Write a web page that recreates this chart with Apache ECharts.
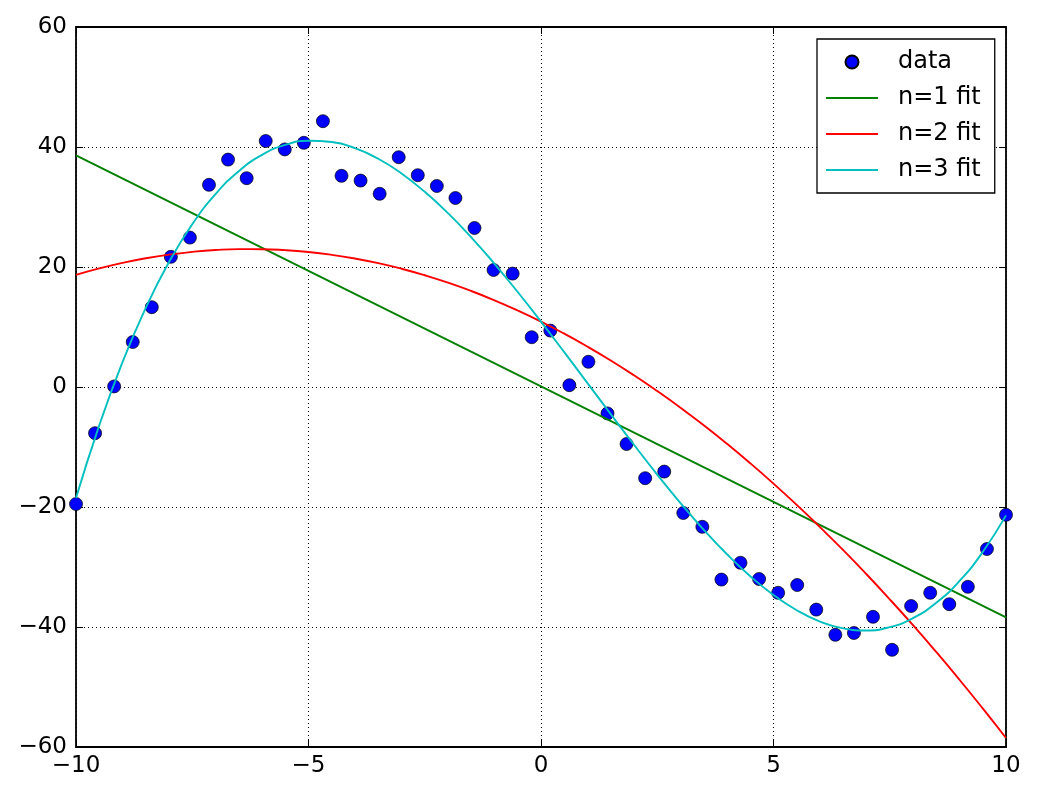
<!DOCTYPE html>
<html>
<head>
<meta charset="utf-8">
<script src="https://cdn.jsdelivr.net/npm/echarts@6/dist/echarts.min.js"></script>
<style>
  html, body { margin: 0; padding: 0; background: #fff; }
  #chart { width: 1037px; height: 794px; }
</style>
</head>
<body>
<div id="chart"></div>
<script>
// ---- data ----
const dataX = [-10.00, -9.59, -9.18, -8.78, -8.37, -7.96, -7.55, -7.14, -6.73, -6.33,
               -5.92, -5.51, -5.10, -4.69, -4.29, -3.88, -3.47, -3.06, -2.65, -2.24,
               -1.84, -1.43, -1.02, -0.61, -0.20, 0.20, 0.61, 1.02, 1.43, 1.84,
               2.24, 2.65, 3.06, 3.47, 3.88, 4.29, 4.69, 5.10, 5.51, 5.92,
               6.33, 6.73, 7.14, 7.55, 7.96, 8.37, 8.78, 9.18, 9.59, 10.00];
const dataY = [-19.5, -7.7, 0.1, 7.5, 13.3, 21.7, 24.9, 33.7, 37.9, 34.8,
               41.0, 39.6, 40.7, 44.3, 35.2, 34.4, 32.2, 38.3, 35.3, 33.5,
               31.5, 26.5, 19.5, 18.9, 8.3, 9.4, 0.3, 4.2, -4.4, -9.5,
               -15.2, -14.1, -21.0, -23.3, -32.1, -29.3, -32.0, -34.3, -33.0, -37.1,
               -41.3, -41.0, -38.3, -43.8, -36.5, -34.3, -36.2, -33.3, -27.0, -21.3];

// fitted curves
const fitX1 = [-10, 10];
const fitY1 = [38.6, -38.4];
const fitX = [-10, -9.5, -9, -8.5, -8, -7.5, -7, -6.5, -6, -5.5, -5, -4.5, -4, -3.5, -3, -2.5, -2, -1.5, -1, -0.5,
              0, 0.5, 1, 1.5, 2, 2.5, 3, 3.5, 4, 4.5, 5, 5.5, 6, 6.5, 7, 7.5, 8, 8.5, 9, 9.5, 10];
const fitY2 = [18.7, 19.77, 20.69, 21.46, 22.07, 22.52, 22.83, 22.98, 22.97, 22.81, 22.5, 22.03, 21.41, 20.64,
               19.71, 18.62, 17.39, 16.0, 14.45, 12.75, 10.9, 8.89, 6.73, 4.42, 1.95, -0.68, -3.45, -6.38,
               -9.47, -12.71, -16.1, -19.65, -23.35, -27.2, -31.21, -35.38, -39.69, -44.16, -48.79, -53.57, -58.5];
const fitY3 = [-18.5, -6.39, 4.15, 13.19, 20.83, 27.12, 32.14, 35.97, 38.68, 40.35, 41.04, 40.83, 39.8, 38.04,
               35.59, 32.53, 28.97, 24.95, 20.54, 15.83, 10.9, 5.81, 0.64, -4.53, -9.63, -14.59, -19.35, -23.80,
               -27.88, -31.53, -34.67, -37.21, -39.1, -40.23, -40.58, -40.02, -38.51, -35.97, -32.33, -27.49, -21.4];

const seriesNames = ['data', 'n=1 fit', 'n=2 fit', 'n=3 fit'];
const xTicks = { min: -10, max: 10, step: 5 };
const yTicks = { min: -60, max: 60, step: 20 };

// ---- chart ----
const FONT = 'DejaVu Sans';
const pairs = (xs, ys) => xs.map((x, i) => [x, ys[i]]);
const fmt = v => String(v).replace('-', '\u2212');

const gridLine = { show: true, lineStyle: { color: '#000', width: 1, type: [1, 3] } };
const tickStyle = { show: true, inside: true, length: 7, lineStyle: { color: '#000', width: 1 } };
const lineIcon = 'path://M0,0H52V1.8H0Z';

function xAxisDef(pos, primary) {
  return {
    type: 'value', position: pos, min: xTicks.min, max: xTicks.max, interval: xTicks.step,
    axisLine: { show: false, onZero: false }, axisTick: tickStyle,
    splitLine: primary ? gridLine : { show: false },
    axisLabel: primary ? { show: true, color: '#000', fontFamily: FONT, fontSize: 23, margin: 8, formatter: fmt } : { show: false }
  };
}
function yAxisDef(pos, primary) {
  return {
    type: 'value', position: pos, min: yTicks.min, max: yTicks.max, interval: yTicks.step,
    axisLine: { show: false, onZero: false }, axisTick: tickStyle,
    splitLine: primary ? gridLine : { show: false },
    axisLabel: primary ? { show: true, color: '#000', fontFamily: FONT, fontSize: 23, margin: 9, formatter: fmt } : { show: false }
  };
}

const chart = echarts.init(document.getElementById('chart'), null, { renderer: 'canvas' });
chart.setOption({
  animation: false,
  backgroundColor: '#fff',
  grid: { left: 76, top: 27, right: 31, bottom: 47, show: true, borderColor: '#000', borderWidth: 1.8, backgroundColor: 'transparent' },
  xAxis: [xAxisDef('bottom', true), xAxisDef('top', false)],
  yAxis: [yAxisDef('left', true), yAxisDef('right', false)],
  legend: {
    orient: 'vertical', left: 817, top: 39,
    padding: [11, 14, 11, 9],
    borderColor: '#000', borderWidth: 1.3, backgroundColor: '#fff',
    itemWidth: 52, itemHeight: 13, itemGap: 12,
    textStyle: { fontFamily: FONT, fontSize: 24, color: '#000', lineHeight: 24, padding: [0, 0, 0, 15] },
    data: [
      { name: seriesNames[0] },
      { name: seriesNames[1], icon: lineIcon },
      { name: seriesNames[2], icon: lineIcon },
      { name: seriesNames[3], icon: lineIcon }
    ],
    selectedMode: false
  },
  series: [
    {
      name: seriesNames[0], type: 'scatter', data: pairs(dataX, dataY),
      symbol: 'circle', symbolSize: 13,
      itemStyle: { color: '#0000ff', borderColor: '#000', borderWidth: 0.7, opacity: 1 },
      z: 2
    },
    {
      name: seriesNames[1], type: 'line', data: pairs(fitX1, fitY1),
      symbol: 'none', lineStyle: { color: '#008000', width: 1.9 }, itemStyle: { color: '#008000' }, z: 3
    },
    {
      name: seriesNames[2], type: 'line', data: pairs(fitX, fitY2), smooth: true,
      symbol: 'none', lineStyle: { color: '#ff0000', width: 1.9 }, itemStyle: { color: '#ff0000' }, z: 3
    },
    {
      name: seriesNames[3], type: 'line', data: pairs(fitX, fitY3), smooth: true,
      symbol: 'none', lineStyle: { color: '#00bfbf', width: 1.9 }, itemStyle: { color: '#00bfbf' }, z: 3
    }
  ]
});
</script>
</body>
</html>
